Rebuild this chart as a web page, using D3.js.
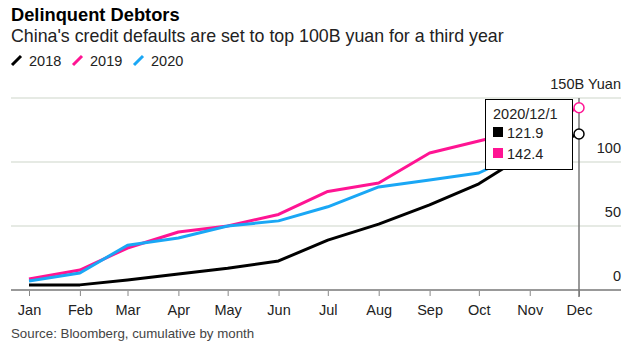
<!DOCTYPE html>
<html>
<head>
<meta charset="utf-8">
<script src="https://cdn.jsdelivr.net/npm/d3@7"></script>
<style>
  body { margin: 0; background: #fff; }
  text { font-family: "Liberation Sans", Arial, sans-serif; }
</style>
</head>
<body>
<div id="chart"></div>
<script>
const months = ['Jan', 'Feb', 'Mar', 'Apr', 'May', 'Jun', 'Jul', 'Aug', 'Sep', 'Oct', 'Nov', 'Dec'];
const years = ['2018', '2019', '2020'];
const colors = ['#000000', '#ff1493', '#1aa7f5'];
const v2018 = [4, 4, 7.8, 12.5, 17, 22.7, 39, 51.5, 66.5, 83, 108, 121.9];
const v2019 = [8.6, 15.6, 32.8, 45.3, 50, 59, 77, 83.6, 107, 116.4, 126, 142.4];
const v2020 = [7, 13.3, 35, 40.6, 50, 54, 65, 80.5, 86, 91.4, 110];
const yTicks = [0, 50, 100, 150];
const hoverDate = '2020/12/1';

const series = [v2018, v2019, v2020];

const width = 634;
const height = 347;
const margin = { top: 98, bottom: 57, left: 29, right: 55 };

const svg = d3.select('#chart')
    .append('svg')
    .attr('width', width)
    .attr('height', height);

// title block
svg.append('text').attr('x', 11).attr('y', 21)
    .attr('font-size', 18.3).attr('font-weight', 'bold').attr('fill', '#000')
    .text('Delinquent Debtors');
svg.append('text').attr('x', 11).attr('y', 42)
    .attr('font-size', 17.8).attr('fill', '#222')
    .text("China's credit defaults are set to top 100B yuan for a third year");

// legend
const legend = svg.append('g').attr('transform', 'translate(12,61)');
let lx = 0;
years.forEach((yr, i) => {
    const g = legend.append('g').attr('transform', `translate(${lx},0)`);
    g.append('line').attr('x1', 0).attr('y1', 4).attr('x2', 9).attr('y2', -5)
        .attr('stroke', colors[i]).attr('stroke-width', 3);
    g.append('text').attr('x', 17).attr('y', 5).attr('font-size', 14.5)
        .attr('fill', '#222').text(yr);
    lx += 61;
});

const x = d3.scaleTime()
    .domain([new Date(2020, 0, 1), new Date(2020, 11, 1)])
    .range([margin.left, width - margin.right]);

const y = d3.scaleLinear()
    .domain([0, 150])
    .range([height - margin.bottom, margin.top]);

const gridLeft = 11;
const gridRight = 621;

// gridlines + y labels
svg.append('g').selectAll('line')
    .data(yTicks.filter(d => d > 0))
    .join('line')
    .attr('x1', gridLeft).attr('x2', gridRight)
    .attr('y1', d => y(d)).attr('y2', d => y(d))
    .attr('stroke', '#cdd5c9').attr('stroke-width', 1);

svg.append('g').selectAll('text')
    .data(yTicks)
    .join('text')
    .attr('x', gridRight).attr('y', d => y(d) - 9)
    .attr('text-anchor', 'end').attr('font-size', 14.5).attr('fill', '#222')
    .text(d => d === 150 ? '150B Yuan' : d);

// x axis
const xAxis = g => g
    .attr('transform', `translate(0,${y(0)})`)
    .call(d3.axisBottom(x).ticks(d3.timeMonth.every(1)).tickSize(6).tickPadding(9)
        .tickFormat((d, i) => months[i]))
    .call(g => g.select('.domain').remove())
    .call(g => g.selectAll('.tick line').attr('stroke', '#888'))
    .call(g => g.selectAll('.tick text').attr('font-size', 14.5).attr('fill', '#222')
        .attr('font-family', '"Liberation Sans", Arial, sans-serif'));
svg.append('g').call(xAxis);

svg.append('line')
    .attr('x1', gridLeft).attr('x2', gridRight)
    .attr('y1', y(0)).attr('y2', y(0))
    .attr('stroke', '#999').attr('stroke-width', 2);

// lines
const line = d3.line()
    .x((d, i) => x(new Date(2020, i, 1)))
    .y(d => y(d));

svg.append('g').selectAll('path')
    .data(series)
    .join('path')
    .attr('d', d => line(d))
    .attr('fill', 'none')
    .attr('stroke', (d, i) => colors[i])
    .attr('stroke-width', 3)
    .attr('stroke-linejoin', 'round');

// hover marker at Dec
const hx = x(new Date(2020, 11, 1));
svg.append('line')
    .attr('x1', hx).attr('x2', hx)
    .attr('y1', y(150)).attr('y2', y(0) + 7)
    .attr('stroke', '#777').attr('stroke-width', 1.5);

const hovered = [0, 1];
svg.append('g').selectAll('circle')
    .data(hovered)
    .join('circle')
    .attr('cx', hx)
    .attr('cy', i => y(series[i][11]))
    .attr('r', 5)
    .attr('fill', '#fff')
    .attr('stroke', i => colors[i])
    .attr('stroke-width', 1.5);

// tooltip
const tip = svg.append('g').attr('transform', 'translate(485,99)');
tip.append('rect').attr('x', 0.5).attr('y', 0.5).attr('width', 87).attr('height', 70)
    .attr('fill', '#fff').attr('stroke', '#000').attr('stroke-width', 1);
tip.append('text').attr('x', 8).attr('y', 20).attr('font-size', 14.5).attr('fill', '#222')
    .text(hoverDate);
hovered.forEach((s, i) => {
    tip.append('rect').attr('x', 8).attr('y', 28 + i * 21).attr('width', 10).attr('height', 10)
        .attr('fill', colors[s]);
    tip.append('text').attr('x', 22).attr('y', 39 + i * 21).attr('font-size', 14.5).attr('fill', '#222')
        .text(series[s][11]);
});

// source
svg.append('text').attr('x', 11).attr('y', 338)
    .attr('font-size', 13.3).attr('fill', '#444')
    .text('Source: Bloomberg, cumulative by month');
</script>
</body>
</html>
